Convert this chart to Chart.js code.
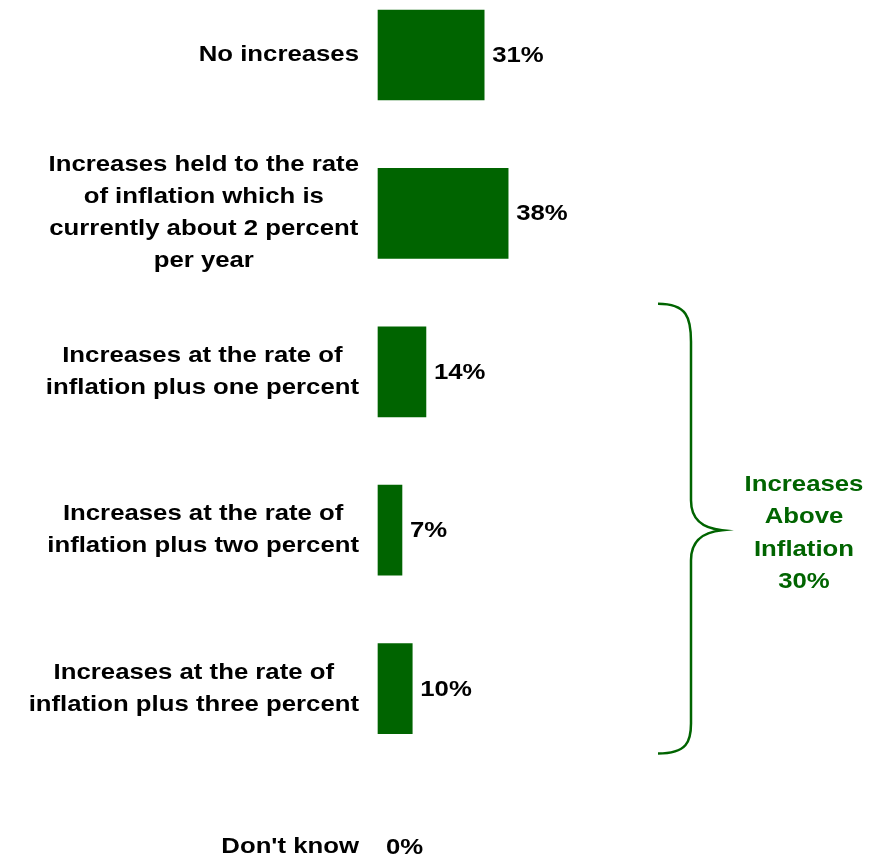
<!DOCTYPE html>
<html>
<head>
<meta charset="utf-8">
<script src="https://cdn.jsdelivr.net/npm/chart.js@4/dist/chart.umd.min.js"></script>
<style>
  html, body { margin: 0; padding: 0; background: #fff; }
  #wrap { width: 884px; height: 859px; position: relative; }
</style>
</head>
<body>
<div id="wrap"><canvas id="chart"></canvas></div>
<script>
// answer options (each entry is one label, split into its lines)
const categories = [
    ['No increases'],
    ['Increases held to the rate', 'of inflation which is', 'currently about 2 percent', 'per year'],
    ['Increases at the rate of', 'inflation plus one percent'],
    ['Increases at the rate of', 'inflation plus two percent'],
    ['Increases at the rate of', 'inflation plus three percent'],
    ["Don't know"]
];
const shares = [31, 38, 14, 7, 10, 0];

// bracket over the three "plus" rows
const groupRows = [2, 3, 4];
const groupLabel = ['Increases', 'Above', 'Inflation', '30%'];

const GREEN = '#006400';
const FONT = 'bold 22px "Liberation Sans", Arial, sans-serif';
const STRETCH = 1.17;
const LINE_H = 32;

// text in this chart is a little wider than the plain font
function stretchedText(ctx, text, x, y, align) {
    let w = ctx.measureText(text).width * STRETCH;
    let x0 = x;
    if (align === 'center') x0 = x - w / 2;
    if (align === 'right') x0 = x - w;
    ctx.save();
    ctx.translate(x0, y);
    ctx.scale(STRETCH, 1);
    ctx.textAlign = 'left';
    ctx.fillText(text, 0, 0);
    ctx.restore();
}

const labelsPlugin = {
    id: 'labelsPlugin',
    afterDraw(chart) {
        const ctx = chart.ctx;
        const yScale = chart.scales.y;
        const area = chart.chartArea;
        const meta = chart.getDatasetMeta(0);
        ctx.save();
        ctx.font = FONT;
        ctx.textBaseline = 'middle';
        ctx.fillStyle = '#000';

        // category labels, lines centred on each other, block right-aligned
        const right = area.left - 19;
        categories.forEach((lines, i) => {
            const cy = yScale.getPixelForValue(i);
            const maxW = Math.max(...lines.map(l => ctx.measureText(l).width * STRETCH));
            const cx = right - maxW / 2;
            lines.forEach((line, j) => {
                stretchedText(ctx, line, cx, cy + (j - (lines.length - 1) / 2) * LINE_H, 'center');
            });
        });

        // value labels at the end of each bar
        meta.data.forEach((bar, i) => {
            stretchedText(ctx, shares[i] + '%', bar.x + 8, bar.y + 1, 'left');
        });

        // curly bracket
        const band = yScale.getPixelForValue(1) - yScale.getPixelForValue(0);
        const mid = yScale.getPixelForValue(groupRows[1]);
        const top = mid - 1.43 * band;
        const bot = mid + 1.41 * band;
        const x0 = 658, x1 = 691, x2 = 722;
        ctx.strokeStyle = GREEN;
        ctx.lineWidth = 2.5;
        ctx.beginPath();
        ctx.moveTo(x0, top);
        ctx.bezierCurveTo(x1 - 4, top, x1, top + 14, x1, top + 38);
        ctx.lineTo(x1, mid - 30);
        ctx.bezierCurveTo(x1, mid - 10, x1 + 12, mid - 2, x2, mid);
        ctx.bezierCurveTo(x1 + 12, mid + 2, x1, mid + 10, x1, mid + 30);
        ctx.lineTo(x1, bot - 30);
        ctx.bezierCurveTo(x1, bot - 12, x1 - 4, bot, x0, bot);
        ctx.stroke();

        ctx.fillStyle = GREEN;
        groupLabel.forEach((line, j) => {
            stretchedText(ctx, line, 804, mid + 3 + (j - (groupLabel.length - 1) / 2) * 32.5, 'center');
        });
        ctx.restore();
    }
};

let ctxChart = document.getElementById('chart').getContext('2d');
let chart = new Chart(ctxChart, {
    type: 'bar',
    data: {
        labels: categories.map(c => c.join(' ')),
        datasets: [{
            data: shares,
            // an empty bar should leave no hairline behind
            backgroundColor: shares.map(v => v > 0 ? GREEN : 'rgba(0,0,0,0)'),
            borderWidth: 0,
            barThickness: 90,
            clip: false
        }]
    },
    options: {
        indexAxis: 'y',
        responsive: true,
        maintainAspectRatio: false,
        animation: false,
        layout: {
            padding: { left: 378, right: 232, top: 55, bottom: 12 }
        },
        scales: {
            x: { display: false, min: 0, max: 80 },
            y: { display: false, offset: false }
        },
        plugins: {
            legend: { display: false },
            tooltip: { enabled: false }
        }
    },
    plugins: [labelsPlugin]
});
</script>
</body>
</html>
